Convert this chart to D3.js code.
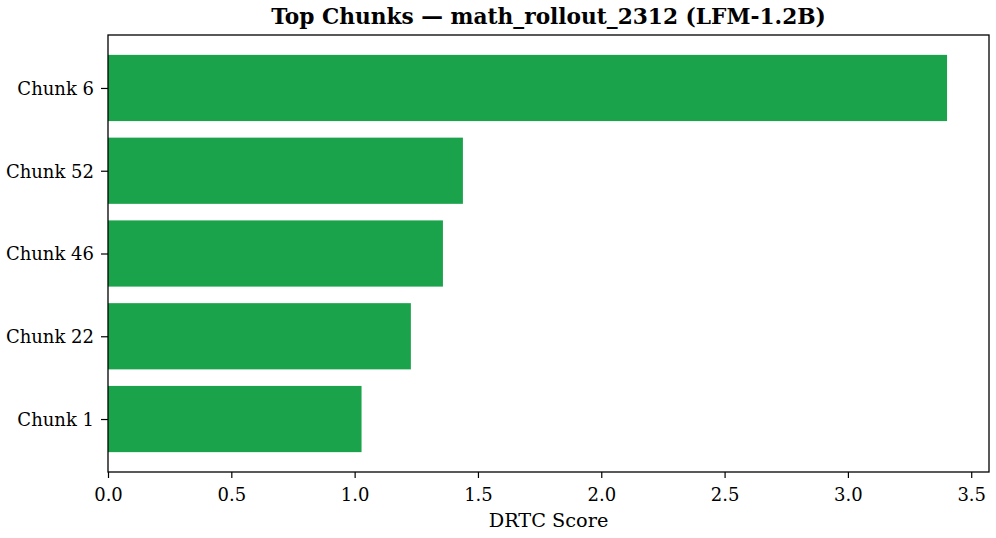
<!DOCTYPE html>
<html>
<head>
<meta charset="utf-8">
<script src="https://cdn.jsdelivr.net/npm/d3@7"></script>
<style>
  body { margin: 0; background: #fff; }
  svg { display: block; }
  text { font-family: "DejaVu Serif", serif; fill: #000; }
</style>
</head>
<body>
<svg id="chart" width="996" height="538"></svg>
<script>
// data (bottom to top, like matplotlib barh)
const chunks = ["Chunk 1", "Chunk 22", "Chunk 46", "Chunk 52", "Chunk 6"];
const scores = [1.028, 1.228, 1.358, 1.439, 3.402];
const xTicks = [0, 0.5, 1, 1.5, 2, 2.5, 3, 3.5];

const svg = d3.select("#chart");
const plotL = 108, plotR = 989, plotT = 35, plotB = 472;
const barColor = "#1aa34a";

const xMax = d3.max(scores) * 1.05;
const x = d3.scaleLinear().domain([0, xMax]).range([plotL, plotR]);
const y = d3.scaleLinear().domain([-0.64, chunks.length - 1 + 0.64]).range([plotB, plotT]);
const barH = y(0) - y(0.8);

// bars
svg.append("g").selectAll("rect")
    .data(scores)
    .join("rect")
    .attr("x", x(0))
    .attr("y", (d, i) => y(i + 0.4))
    .attr("width", d => x(d) - x(0))
    .attr("height", barH)
    .attr("fill", barColor);

// axes
const xAxis = svg.append("g")
    .attr("transform", `translate(0,${plotB})`)
    .call(d3.axisBottom(x).tickValues(xTicks).tickFormat(d3.format(".1f")).tickSize(6).tickPadding(10));
const yAxis = svg.append("g")
    .attr("transform", `translate(${plotL},0)`)
    .call(d3.axisLeft(y).tickValues(d3.range(chunks.length)).tickFormat(i => chunks[i]).tickSize(7).tickPadding(7));

[xAxis, yAxis].forEach(a => {
    a.select(".domain").remove();
    a.selectAll("line").attr("stroke", "#000").attr("stroke-width", 1.2);
    a.selectAll("text").style("font-size", "18px").style("font-family", "DejaVu Serif");
});
yAxis.selectAll("text").attr("dy", "0.36em");

// frame
svg.append("rect")
    .attr("x", plotL).attr("y", plotT)
    .attr("width", plotR - plotL).attr("height", plotB - plotT)
    .attr("fill", "none").attr("stroke", "#000").attr("stroke-width", 1.3);

// title & label
svg.append("text")
    .attr("x", (plotL + plotR) / 2).attr("y", 24)
    .attr("text-anchor", "middle")
    .style("font-size", "21.7px").style("font-weight", "bold")
    .text("Top Chunks — math_rollout_2312 (LFM-1.2B)");

svg.append("text")
    .attr("x", (plotL + plotR) / 2).attr("y", 527)
    .attr("text-anchor", "middle")
    .style("font-size", "19.3px")
    .text("DRTC Score");
</script>
</body>
</html>
